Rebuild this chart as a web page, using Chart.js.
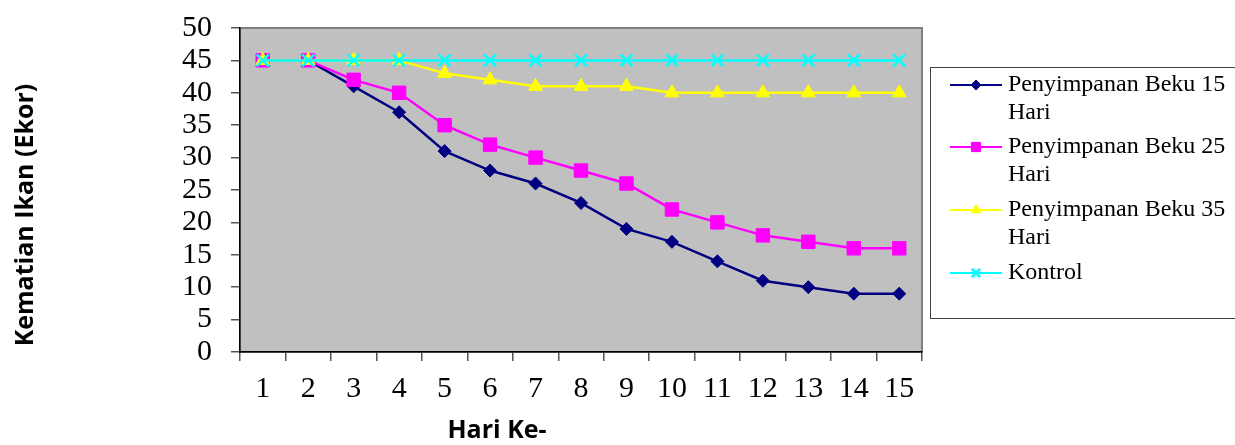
<!DOCTYPE html>
<html>
<head>
<meta charset="utf-8">
<script src="https://cdn.jsdelivr.net/npm/chart.js@4.4.1/dist/chart.umd.min.js"></script>
<style>
  html, body { margin: 0; padding: 0; background: #fff; }
  #wrap { width: 1235px; height: 445px; position: relative; }
</style>
</head>
<body>
<div id="wrap"><canvas id="chart" width="1235" height="445"></canvas></div>
<script>
  const days = ["1","2","3","4","5","6","7","8","9","10","11","12","13","14","15"];
  const beku15 = [45,45,41,37,31,28,26,23,19,17,14,11,10,9,9];
  const beku25 = [45,45,42,40,35,32,30,28,26,22,20,18,17,16,16];
  const beku35 = [45,45,45,45,43,42,41,41,41,40,40,40,40,40,40];
  const kontrol = [45,45,45,45,45,45,45,45,45,45,45,45,45,45,45];

  const legendLines = [
    ["Penyimpanan Beku 15", "Hari"],
    ["Penyimpanan Beku 25", "Hari"],
    ["Penyimpanan Beku 35", "Hari"],
    ["Kontrol"],
  ];
  const yTitle = "Kematian Ikan (Ekor)";
  const xTitle = "Hari Ke-";

  const SERIF = "'Liberation Serif', 'Times New Roman', serif";
  const SANS = "'Open Sans', 'Liberation Sans', sans-serif";

  // background, frame, titles and legend
  const decor = {
    id: "decor",
    beforeDraw(chart){
      const { ctx, chartArea: a } = chart;
      ctx.save();
      ctx.fillStyle = "#C0C0C0";
      ctx.fillRect(a.left, a.top, a.right - a.left, a.bottom - a.top);
      ctx.strokeStyle = "#808080";
      ctx.lineWidth = 2;
      ctx.strokeRect(a.left, a.top, a.right - a.left, a.bottom - a.top);
      ctx.restore();
    },
    afterDraw(chart){
      const { ctx } = chart;
      ctx.save();

      // axis titles
      ctx.fillStyle = "#000";
      ctx.font = "bold 25px " + SANS;
      ctx.textAlign = "center";
      ctx.textBaseline = "middle";
      ctx.fillText(xTitle, 497, 431);
      ctx.save();
      ctx.translate(26, 215);
      ctx.rotate(-Math.PI / 2);
      ctx.fillText(yTitle, 0, 0);
      ctx.restore();

      // legend box
      ctx.strokeStyle = "#404040";
      ctx.lineWidth = 1;
      ctx.strokeRect(930.5, 67.5, 320, 251);

      const rowY = [85, 147, 210, 273];
      ctx.font = "24px " + SERIF;
      ctx.textAlign = "left";
      chart.data.datasets.forEach((ds, i) => {
        const y = rowY[i];
        ctx.strokeStyle = ds.borderColor;
        ctx.lineWidth = 2;
        ctx.beginPath();
        ctx.moveTo(950, y);
        ctx.lineTo(1002, y);
        ctx.stroke();
        if(Chart.helpers && Chart.helpers.drawPoint){
          ctx.fillStyle = ds.pointBackgroundColor;
          ctx.strokeStyle = ds.pointBorderColor;
          ctx.lineWidth = ds.pointBorderWidth;
          Chart.helpers.drawPoint(ctx, {
            pointStyle: ds.pointStyle,
            radius: ds.legendRadius,
            rotation: 0,
            borderWidth: ds.pointBorderWidth
          }, 976, y);
        }
        ctx.fillStyle = "#000";
        legendLines[i].forEach((t, j) => ctx.fillText(t, 1008, y + j * 28));
      });
      ctx.restore();
    }
  };

  const mk = (label, data, color, style, radius, legendRadius, order) => ({
    label, data, order,
    borderColor: color,
    backgroundColor: color,
    borderWidth: 2.5,
    pointStyle: style,
    pointRadius: radius,
    pointHoverRadius: radius,
    pointBackgroundColor: color,
    pointBorderColor: color,
    pointBorderWidth: style === "crossRot" ? 2.5 : 1,
    legendRadius,
    tension: 0,
  });

  new Chart(document.getElementById("chart"), {
    type: "line",
    data: {
      labels: days,
      datasets: [
        mk("Penyimpanan Beku 15 Hari", beku15, "#000080", "rectRot", 6.5, 5, 4),
        mk("Penyimpanan Beku 25 Hari", beku25, "#FF00FF", "rect", 9.5, 6.5, 3),
        mk("Penyimpanan Beku 35 Hari", beku35, "#FFFF00", "triangle", 8, 5.5, 2),
        mk("Kontrol", kontrol, "#00FFFF", "crossRot", 8.5, 6, 1),
      ]
    },
    options: {
      responsive: false,
      animation: false,
      layout: { padding: { left: 0, top: 26, right: 313, bottom: 0 } },
      plugins: { legend: { display: false }, tooltip: { enabled: false } },
      scales: {
        x: {
          offset: true,
          afterFit(s){ s.height = 93; },
          grid: { offset: true, drawOnChartArea: false, tickLength: 9, color: "#555", lineWidth: 1.5 },
          border: { display: true, color: "#000", width: 1.5 },
          ticks: { color: "#000", padding: 10, maxRotation: 0, autoSkip: false, font: { family: SERIF, size: 30 } }
        },
        y: {
          min: 0, max: 50,
          afterFit(s){ s.width = 240; },
          grid: { drawOnChartArea: false, tickLength: 9, color: "#555", lineWidth: 1.5 },
          border: { display: true, color: "#000", width: 1.5 },
          ticks: { stepSize: 5, autoSkip: false, color: "#000", padding: 19, font: { family: SERIF, size: 30, lineHeight: 0.6 } }
        }
      }
    },
    plugins: [decor]
  });
</script>
</body>
</html>
